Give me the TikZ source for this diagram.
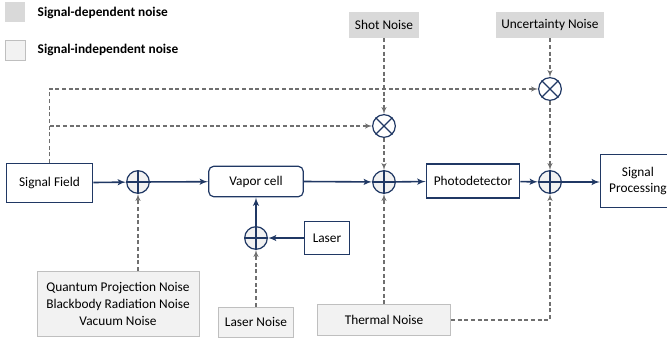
\documentclass[tikz,border=0pt]{standalone}
\usepackage{fontspec}
\setmainfont{Carlito}
\usepackage{tikz}
\usetikzlibrary{arrows,shapes}
\definecolor{navy}{HTML}{203864}
\definecolor{dgray}{HTML}{D9D9D9}
\definecolor{lgray}{HTML}{F2F2F2}
\definecolor{bgray}{HTML}{BFBFBF}
\definecolor{dash}{HTML}{6F6F6F}
\tikzstyle{block}=[draw=navy,fill=white,line width=0.9pt,inner sep=0pt,align=center,font=\fontsize{10}{12.5}\selectfont]
\tikzstyle{junction}=[circle,draw=navy,fill=lgray,line width=0.9pt,minimum size=17pt,inner sep=0pt]
\tikzstyle{depnoise}=[fill=dgray,inner sep=0pt,align=center,font=\fontsize{10}{12.5}\selectfont]
\tikzstyle{indnoise}=[draw=bgray,fill=lgray,inner sep=0pt,align=center,font=\fontsize{10}{12.5}\selectfont]

\begin{document}
\begin{tikzpicture}[x=0.75pt,y=-0.75pt]
        \tikzset{edge/.style = {->,>=latex',draw=navy,line width=1.2pt},
                 dedge/.style = {->,>=latex',draw=dash,line width=0.8pt,dash pattern=on 3pt off 2pt}}
        \useasboundingbox (0,0) rectangle (667,343);
        % legend
        \node[depnoise,minimum size=15pt] (key1) at (15,12) {};
        \node[indnoise,minimum size=15pt] (key2) at (15,50) {};
        \node[anchor=west,font=\fontsize{10}{12}\selectfont\bfseries] at (33,13) {Signal-dependent noise};
        \node[anchor=west,font=\fontsize{10}{12}\selectfont\bfseries] at (33,50) {Signal-independent noise};
        % main chain
        \node[block,minimum width=65pt,minimum height=29pt] (sf) at (49.5,183) {Signal Field};
        \node[junction] (s1) at (138,182) {};
        \node[block,rounded corners=4pt,minimum width=71pt,minimum height=23pt] (vc) at (256,181.5) {Vapor cell};
        \node[junction] (s2) at (384,182) {};
        \node[block,minimum width=70pt,minimum height=25.5pt] (pd) at (473,181) {Photodetector};
        \node[junction] (s3) at (550,182) {};
        \node[block,anchor=west,minimum width=56pt,minimum height=40pt] (sp) at (600,181) {Signal\\Processing};
        % laser branch
        \node[junction] (sl) at (256,238) {};
        \node[block,minimum width=34pt,minimum height=25pt] (laser) at (327,238) {Laser};
        % multipliers
        \node[junction,fill=white] (m1) at (384,126) {};
        \node[junction,fill=white] (m2) at (550,89) {};
        \foreach \s in {s1,s2,s3,sl}
          \draw[navy,line width=0.9pt] (\s.north) -- (\s.south) (\s.west) -- (\s.east);
        \foreach \m in {m1,m2}
          \draw[navy,line width=0.9pt] (\m.north west) -- (\m.south east) (\m.north east) -- (\m.south west);
        % noise sources
        \node[depnoise,minimum width=53pt,minimum height=19.5pt] (shot) at (384,25) {Shot Noise};
        \node[depnoise,minimum width=81pt,minimum height=19.5pt] (unc) at (550,25) {Uncertainty Noise};
        \node[indnoise,minimum width=121.5pt,minimum height=49pt] (qpn) at (118,304) {Quantum Projection Noise\\Blackbody Radiation Noise\\Vacuum Noise};
        \node[indnoise,minimum width=56pt,minimum height=22.5pt] (lnoise) at (256,322) {Laser Noise};
        \node[indnoise,minimum width=100pt,minimum height=23pt] (thermal) at (384,320) {Thermal Noise};
        % signal path
        \draw[edge] (sf) -- (s1);
        \draw[edge] (s1) -- (vc);
        \draw[edge] (vc.east) -- (s2);
        \draw[edge] (s2) -- (pd);
        \draw[edge] (pd) -- (s3);
        \draw[edge] (s3) -- (sp.west |- s3);
        \draw[edge] (laser) -- (sl);
        \draw[edge] (sl) -- (vc.south);
        % noise paths
        \draw[dedge] (sf.north) |- (m2.west);
        \draw[dedge] (sf.north |- m1) -- (m1.west);
        \draw[dedge] (shot) -- (m1);
        \draw[dedge] (m1) -- (s2);
        \draw[dedge] (unc) -- (m2);
        \draw[dedge] (m2) -- (s3);
        \draw[dedge] (s1 |- qpn.north) -- (s1.south);
        \draw[dedge] (lnoise) -- (sl);
        \draw[dedge] (thermal) -- (s2);
        \draw[dedge] (thermal.east) -| (s3.south);
      \end{tikzpicture}
\end{document}
